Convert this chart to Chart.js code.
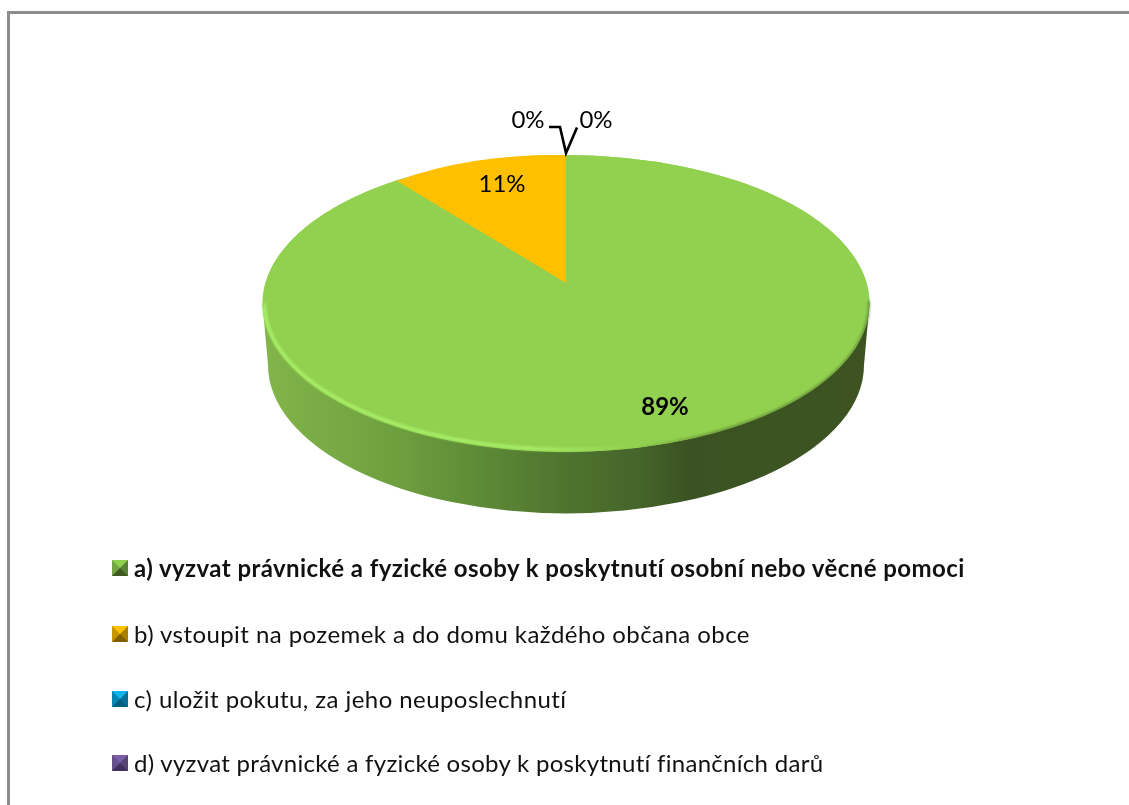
<!DOCTYPE html>
<html lang="cs">
<head>
<meta charset="utf-8">
<title>Pie chart</title>
<script src="https://cdn.jsdelivr.net/npm/chart.js@4"></script>
<style>
html,body{margin:0;padding:0;background:#fff;width:1129px;height:805px;overflow:hidden}
#frame{position:absolute;left:7px;top:11px;width:1122px;height:794px;border-left:3px solid #8c8c8c;border-top:3px solid #8c8c8c;box-sizing:border-box}
canvas{position:absolute;left:0;top:0}
#legend{position:absolute;left:0;top:0;font-family:Lato,sans-serif;font-size:24px;letter-spacing:.43px;color:#111}
.row{position:absolute;left:112px;height:18px;white-space:nowrap;display:flex;align-items:center}
.row:last-child{letter-spacing:.29px}
.key{width:0;height:0;border-style:solid;border-width:8px;margin-right:6px;flex:none}
.row.bold{font-weight:700}
.row span:last-child{position:relative;top:-1px}
</style>
</head>
<body>
<div id="frame"></div>
<canvas id="c" width="1129" height="805"></canvas>
<div id="legend"></div>
<script>
const categories = [
  "a) vyzvat právnické a fyzické osoby k poskytnutí osobní nebo věcné pomoci",
  "b) vstoupit na pozemek a do domu každého občana obce",
  "c) uložit pokutu, za jeho neuposlechnutí",
  "d) vyzvat právnické a fyzické osoby k poskytnutí finančních darů"
];
const values = [89, 11, 0, 0];
const colors = ["#92d050", "#ffc000", "#00b0f0", "#7030a0"];
const legendBevels = [
  ["#8fd14f", "#5a8234", "#3e5a22", "#72a543"],
  ["#ffc000", "#a87f00", "#7f6000", "#c89600"],
  ["#12b4ee", "#0a6f96", "#005f80", "#0a86b5"],
  ["#7a5ea8", "#554575", "#3f3060", "#64508a"]
];
const legendRowTops = [559, 625, 690, 754];

const legendBox = document.getElementById("legend");
categories.forEach((name, i) => {
  const row = document.createElement("div");
  row.className = "row" + (i === 0 ? " bold" : "");
  row.style.top = legendRowTops[i] + "px";
  const key = document.createElement("span");
  key.className = "key";
  key.style.borderColor = legendBevels[i].join(" ");
  const text = document.createElement("span");
  text.textContent = name;
  row.append(key, text);
  legendBox.append(row);
});

const TOP_CY = 303.5, SQUASH = 0.489;
const pie3d = {
  id: "pie3d",
  beforeDatasetDraw(chart, args) {
    const ctx = chart.ctx, arcs = args.meta.data, a0 = arcs[0];
    const cx = a0.x, R = a0.outerRadius, ry = R * SQUASH;
    // extruded side
    const depth = 61.5, bRx = R - 5.5, bCy = TOP_CY + depth;
    const g = ctx.createLinearGradient(cx - R, 0, cx + R, 0);
    [[0, "#82b54a"], [.22, "#6e9f3f"], [.33, "#608f38"], [.49, "#50752f"], [.62, "#45652a"], [.7, "#3b5322"], [1, "#3d5322"]]
      .forEach(s => g.addColorStop(s[0], s[1]));
    ctx.save();
    ctx.beginPath();
    ctx.moveTo(cx - R, TOP_CY);
    ctx.lineTo(cx - bRx, bCy);
    ctx.ellipse(cx, bCy, bRx, ry, 0, Math.PI, 0, true);
    ctx.lineTo(cx + R, TOP_CY);
    ctx.closePath();
    ctx.fillStyle = g;
    ctx.fill();
    // base disc
    ctx.beginPath();
    ctx.ellipse(cx, TOP_CY, R, ry, 0, 0, Math.PI * 2);
    ctx.fillStyle = colors[0];
    ctx.fill();
    ctx.restore();
    // slices: the biggest follows the disc, the rest follow the perspective apex
    arcs.forEach((arc, i) => {
      ctx.save();
      if (i === 0) {
        ctx.translate(cx, TOP_CY);
        ctx.transform(1, 0, 0, SQUASH, 0, 0);
      } else {
        ctx.translate(cx, 283);
        ctx.transform(0.873, 0.0175, 0, 0.4217, 0, 0);
      }
      ctx.translate(-arc.x, -arc.y);
      arc.draw(ctx);
      ctx.restore();
    });
    return false;
  },
  afterDatasetsDraw(chart) {
    const ctx = chart.ctx, meta = chart.getDatasetMeta(0), a0 = meta.data[0];
    const cx = a0.x, R = a0.outerRadius, ry = R * SQUASH;
    // rim light and rim shade
    ctx.save();
    ctx.filter = "blur(1px)";
    const hl = ctx.createLinearGradient(cx - R, 0, cx + 70, 0);
    hl.addColorStop(0, "rgba(168,238,104,1)");
    hl.addColorStop(.72, "rgba(168,238,104,.95)");
    hl.addColorStop(1, "rgba(168,238,104,0)");
    ctx.beginPath();
    ctx.ellipse(cx, TOP_CY, R - 2, ry - 2.5, 0, Math.PI * 1.0, Math.PI * .4, true);
    ctx.strokeStyle = hl;
    ctx.lineWidth = 3.5;
    ctx.stroke();
    const sh = ctx.createLinearGradient(cx + 60, 0, cx + R, 0);
    sh.addColorStop(0, "rgba(60,85,35,0)");
    sh.addColorStop(.4, "rgba(60,85,35,.55)");
    sh.addColorStop(1, "rgba(60,85,35,.55)");
    ctx.beginPath();
    ctx.ellipse(cx, TOP_CY, R - 0.5, ry - 0.5, 0, Math.PI * .42, -0.02, true);
    ctx.strokeStyle = sh;
    ctx.lineWidth = 2;
    ctx.stroke();
    ctx.restore();
    // leader lines for the empty slices
    const tipY = TOP_CY - ry - 2;
    ctx.save();
    ctx.strokeStyle = "#000";
    ctx.lineWidth = 2.6;
    ctx.lineJoin = "miter";
    ctx.beginPath();
    ctx.moveTo(cx - 17, 127);
    ctx.lineTo(cx - 6, 127);
    ctx.lineTo(cx, tipY);
    ctx.lineTo(cx + 11, 127.5);
    ctx.stroke();
    // value labels
    const sum = values.reduce((p, v) => p + v, 0);
    const spots = [[99, 103.5], [-64, -119.5], [-38, -183.5], [30, -183.5]];
    ctx.fillStyle = "#000";
    ctx.textAlign = "center";
    ctx.textBaseline = "middle";
    values.forEach((v, i) => {
      ctx.font = (i === 0 ? "700 " : "") + "24px Lato, sans-serif";
      ctx.fillText(Math.round(v / sum * 100) + "%", cx + spots[i][0], TOP_CY + spots[i][1]);
    });
    ctx.restore();
  }
};

new Chart(document.getElementById("c"), {
  type: "pie",
  data: {
    labels: categories,
    datasets: [{ data: values, backgroundColor: colors, borderWidth: 0, hoverOffset: 0 }]
  },
  options: {
    responsive: false,
    animation: false,
    events: [],
    layout: { padding: { left: 262.5, right: 259.5, top: 0, bottom: 0 } },
    plugins: { legend: { display: false }, tooltip: { enabled: false } }
  },
  plugins: [pie3d]
});
</script>
</body>
</html>
